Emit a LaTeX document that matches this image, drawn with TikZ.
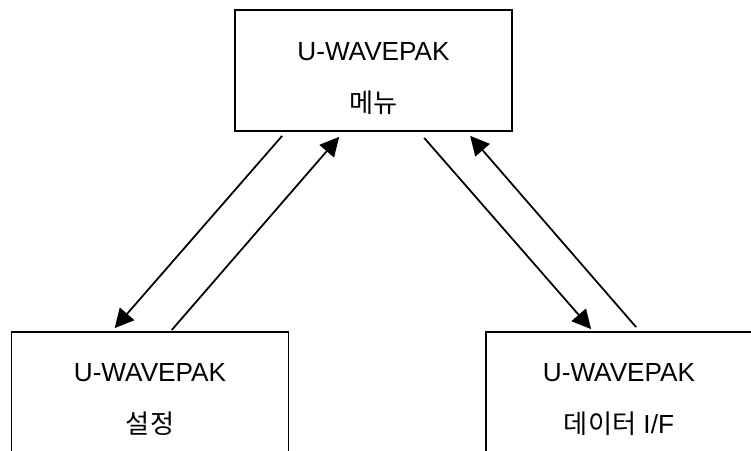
\documentclass[tikz,border=0pt]{standalone}
\usepackage{fontspec}
\setmainfont{Liberation Sans}
\newfontfamily\krfont{Noto Sans CJK KR}
\usetikzlibrary{arrows.meta,calc}
\begin{document}
\begin{tikzpicture}[x=0.02cm, y=-0.02cm,
    menubox/.style={draw, line width=1pt, minimum width=5.54cm, minimum height=2.42cm, inner sep=0pt},
    boxtext/.style={font=\fontsize{14.9}{29.5}\selectfont, align=center},
    flow/.style={line width=1pt, -{Triangle[length=0.38cm, width=0.38cm]}}]
    \useasboundingbox (0,0) rectangle (751,450);

    % Boxes: menu (top), setup (bottom left), data I/F (bottom right)
    \node[menubox] (menu)   at (373.5, 70.5)  {};
    \node[menubox] (setup)  at (150,   392.5) {};
    \node[menubox, minimum width=5.32cm] (dataif) at (619, 392.5) {};

    \node[boxtext] (menutext)   at ($(menu.center)+(0,8)$)   {U-WAVEPAK\\{\krfont 메뉴}};
    \node[boxtext] (setuptext)  at ($(setup.center)+(0,7)$)  {U-WAVEPAK\\{\krfont 설정}};
    \node[boxtext] (dataiftext) at ($(dataif.center)+(0,7)$) {U-WAVEPAK\\{\krfont 데이터}\ I/F};

    % Arrow ends
    \coordinate (m1) at ($(menu.south west)+(48,4)$);
    \coordinate (m2) at ($(menu.south west)+(105,5)$);
    \coordinate (m3) at ($(menu.south west)+(190,6)$);
    \coordinate (m4) at ($(menu.south west)+(236,4)$);
    \coordinate (s1) at ($(setup.north west)+(104,-3)$);
    \coordinate (s2) at ($(setup.north west)+(161,-1)$);
    \coordinate (d1) at ($(dataif.north west)+(106,-2)$);
    \coordinate (d2) at ($(dataif.north west)+(151,-4)$);

    % Flows between menu and the two screens
    \draw[flow] (m1) -- (s1);
    \draw[flow] (s2) -- (m2);
    \draw[flow] (m3) -- (d1);
    \draw[flow] (d2) -- (m4);
\end{tikzpicture}
\end{document}
